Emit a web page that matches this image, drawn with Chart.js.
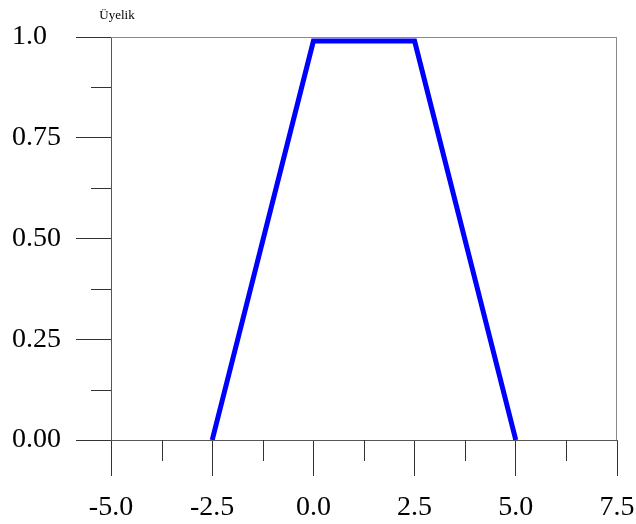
<!DOCTYPE html>
<html>
<head>
<meta charset="utf-8">
<script src="https://cdn.jsdelivr.net/npm/chart.js@4.4.0/dist/chart.umd.min.js"></script>
<style>
  html, body { margin: 0; padding: 0; background: #ffffff; }
  #wrap { width: 636px; height: 524px; position: relative; }
</style>
</head>
<body>
<div id="wrap"><canvas id="c" width="636" height="524"></canvas></div>
<script>
// Data
const xValues = [-2.5, 0, 2.5, 5];
const membership = [0, 0.99, 0.99, 0];
const xTickValues = [-5, -2.5, 0, 2.5, 5, 7.5];
const xTickLabels = ["-5.0", "-2.5", "0.0", "2.5", "5.0", "7.5"];
const yTickValues = [0, 0.25, 0.5, 0.75, 1];
const yTickLabels = ["0.00", "0.25", "0.50", "0.75", "1.0"];
const xMinorTicks = [-3.75, -1.25, 1.25, 3.75, 6.25];
const yMinorTicks = [0.125, 0.375, 0.625, 0.875];
const yAxisTitle = "Üyelik";

const points = xValues.map((x, i) => ({ x: x, y: membership[i] }));

const frameAndMinor = {
  id: 'frameAndMinor',
  beforeDatasetsDraw(chart) {
    const ctx = chart.ctx;
    const a = chart.chartArea;
    const xs = chart.scales.x, ys = chart.scales.y;
    ctx.save();
    // top and right frame
    ctx.strokeStyle = '#8a8a8a';
    ctx.lineWidth = 1;
    ctx.beginPath();
    ctx.moveTo(Math.round(a.left), Math.round(a.top) + 0.5);
    ctx.lineTo(Math.round(a.right), Math.round(a.top) + 0.5);
    ctx.moveTo(Math.round(a.right) - 0.5, Math.round(a.top));
    ctx.lineTo(Math.round(a.right) - 0.5, Math.round(a.bottom));
    ctx.stroke();
    // minor ticks
    ctx.strokeStyle = '#333333';
    ctx.beginPath();
    xMinorTicks.forEach(v => {
      const px = Math.round(xs.getPixelForValue(v)) + 0.5;
      ctx.moveTo(px, a.bottom);
      ctx.lineTo(px, a.bottom + 21);
    });
    yMinorTicks.forEach(v => {
      const py = Math.round(ys.getPixelForValue(v)) + 0.5;
      ctx.moveTo(a.left - 20, py);
      ctx.lineTo(a.left, py);
    });
    ctx.stroke();
    // y axis title
    ctx.fillStyle = '#000';
    ctx.font = '13px "Liberation Serif", serif';
    ctx.textAlign = 'center';
    ctx.textBaseline = 'alphabetic';
    ctx.fillText(yAxisTitle, a.left + 6, 19);
    ctx.restore();
  }
};

new Chart(document.getElementById('c'), {
  type: 'line',
  data: {
    datasets: [{
      data: points,
      borderColor: '#0000ff',
      borderWidth: 5,
      pointRadius: 0,
      fill: false,
      tension: 0,
      clip: 0
    }]
  },
  options: {
    responsive: false,
    animation: false,
    events: [],
    layout: { padding: { left: 12, top: 37, right: 19, bottom: 0 } },
    plugins: { legend: { display: false }, tooltip: { enabled: false }, title: { display: false } },
    scales: {
      x: {
        type: 'linear',
        min: -5, max: 7.5,
        afterBuildTicks(scale) { scale.ticks = xTickValues.map(v => ({ value: v })); },
        afterFit(scale) { scale.height = 84; scale.paddingLeft = 0; scale.paddingRight = 0; },
        grid: { drawOnChartArea: false, tickLength: 36, tickColor: '#333333', drawTicks: true },
        border: { display: true, color: '#555555', width: 1 },
        ticks: {
          autoSkip: false,
          maxRotation: 0,
          padding: 15,
          color: '#000',
          font: { family: '"Liberation Serif", serif', size: 28 },
          callback: (v) => { const i = xTickValues.indexOf(v); return i >= 0 ? xTickLabels[i] : ''; }
        }
      },
      y: {
        type: 'linear',
        min: 0, max: 1,
        afterBuildTicks(scale) { scale.ticks = yTickValues.map(v => ({ value: v })); },
        afterFit(scale) { scale.width = 99; scale.paddingTop = 0; scale.paddingBottom = 0; },
        grid: { drawOnChartArea: false, tickLength: 35, tickColor: '#333333' },
        border: { display: true, color: '#555555', width: 1 },
        ticks: {
          autoSkip: false,
          crossAlign: 'far',
          padding: 4,
          color: '#000',
          font: { family: '"Liberation Serif", serif', size: 28 },
          callback: (v) => { const i = yTickValues.indexOf(v); return i >= 0 ? yTickLabels[i] : ''; }
        }
      }
    }
  },
  plugins: [frameAndMinor]
});
</script>
</body>
</html>
